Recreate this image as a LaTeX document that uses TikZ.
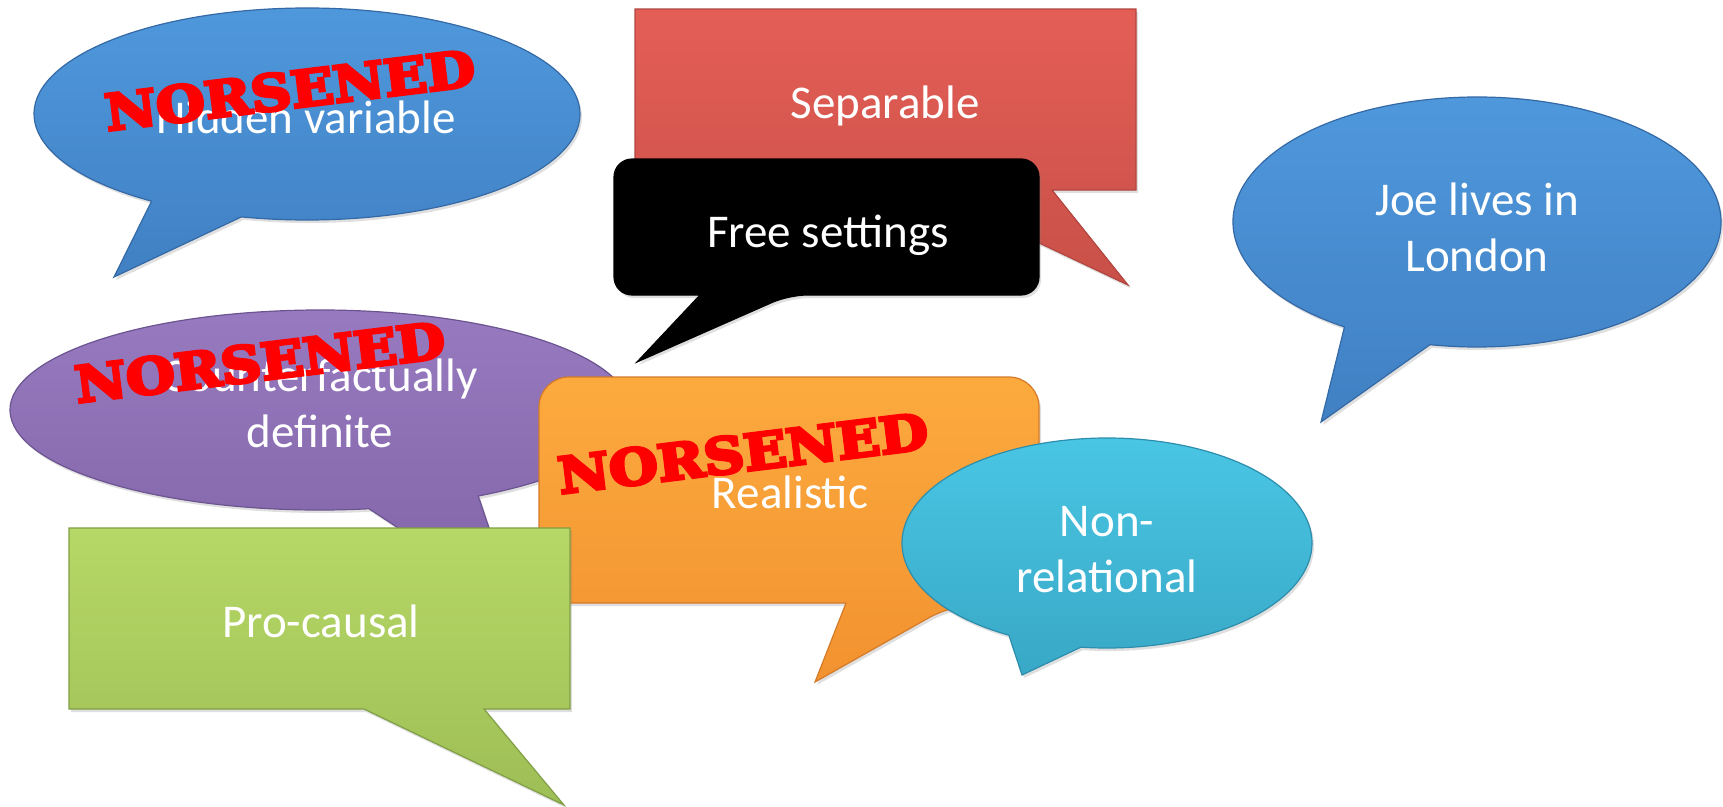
\documentclass[tikz,border=0pt]{standalone}
\usepackage{fontspec}
\setmainfont{Carlito}
\newfontfamily\stampfont[FakeBold=6]{DejaVu Serif}
\usetikzlibrary{shadows,calc}
\definecolor{blueT}{RGB}{80,153,221}
\definecolor{blueB}{RGB}{64,128,195}
\definecolor{blueE}{RGB}{52,105,165}
\definecolor{redT}{RGB}{228,94,86}
\definecolor{redB}{RGB}{200,80,72}
\definecolor{redE}{RGB}{178,70,64}
\definecolor{purT}{RGB}{152,122,192}
\definecolor{purB}{RGB}{128,100,166}
\definecolor{purE}{RGB}{108,84,145}
\definecolor{grnT}{RGB}{182,216,102}
\definecolor{grnB}{RGB}{158,190,86}
\definecolor{grnE}{RGB}{128,158,68}
\definecolor{ornT}{RGB}{252,170,62}
\definecolor{ornB}{RGB}{242,146,48}
\definecolor{ornE}{RGB}{212,122,40}
\definecolor{cyaT}{RGB}{74,200,230}
\definecolor{cyaB}{RGB}{56,168,198}
\definecolor{cyaE}{RGB}{44,142,172}
\begin{document}
\begin{tikzpicture}[x=1pt,y=-1pt,
  lbl/.style={text=white, font=\fontsize{47}{56}\selectfont, inner sep=0pt, align=center},
  stamp/.style={text=red, font=\stampfont\bfseries\fontsize{50}{50}\selectfont, inner sep=0pt, rotate=7, xscale=1.12},
  bubble/.style={line width=1.2pt, drop shadow={shadow xshift=2pt, shadow yshift=-3pt, opacity=0.25}},
]
\useasboundingbox (0,0) rectangle (1723,806);

% Hidden variable (blue ellipse)
\path[bubble, draw=blueE, top color=blueT, bottom color=blueB]
  (114,277) -- ($(307,114)+(124.7:273 and 106)$)
  arc[start angle=124.7, end angle=463.9, x radius=273, y radius=106] -- cycle;
\node[lbl, anchor=base] (hv) at (306,133) {Hidden variable};
\node[stamp] (w1) at (290,90) {NORSENED};

% Separable (red rectangle)
\path[bubble, draw=redE, top color=redT, bottom color=redB]
  (635,9) -- (1136,9) -- (1136,190) -- (1052,190) -- (1128,285) -- (927,190) -- (635,190) -- cycle;
\node[lbl, anchor=base] (sep) at (885,118) {Separable};

% Free settings (black rounded rectangle)
\path[bubble, draw=black, fill=black]
  (614,227) [rounded corners=18pt] -- (614,159) -- (1039,159) -- (1039,295) -- (789,295)
  [sharp corners] -- (637,362) -- (700,295) [rounded corners=18pt] -- (614,295) -- cycle;
\node[lbl, anchor=base] (fs) at (828,247) {Free settings};

% Joe lives in London (blue ellipse)
\path[bubble, draw=blueE, top color=blueT, bottom color=blueB]
  (1321,422) -- ($(1477,222)+(122.9:244 and 125)$)
  arc[start angle=122.9, end angle=461.1, x radius=244, y radius=125] -- cycle;
\node[lbl] (joe) at (1477,227) {Joe lives in\\London};

% Counterfactually definite (purple ellipse)
\path[bubble, draw=purE, top color=purT, bottom color=purB]
  (515,605) -- ($(320,410)+(80.9:310 and 100)$)
  arc[start angle=80.9, end angle=419.3, x radius=310, y radius=100] -- cycle;
\node[lbl] (cd) at (320,403) {Counterfactually\\definite};
\node[stamp] (w2) at (260,362) {NORSENED};

% Realistic (orange rounded rectangle)
\path[bubble, draw=ornE, top color=ornT, bottom color=ornB]
  (539,490) [rounded corners=30pt] -- (539,377) -- (1039,377) -- (1039,603) -- (955,603)
  [sharp corners] -- (815,682) -- (846,603) [rounded corners=30pt] -- (539,603) -- cycle;
\node[lbl, anchor=base] (re) at (790,508) {Realistic};
\node[stamp] (w3) at (743,453) {NORSENED};

% Pro-causal (green rectangle)
\path[bubble, draw=grnE, top color=grnT, bottom color=grnB]
  (69,528) -- (570,528) -- (570,709) -- (484,709) -- (564,805) -- (364,709) -- (69,709) -- cycle;
\node[lbl, anchor=base] (pc) at (321,637) {Pro-causal};

% Non-relational (cyan ellipse)
\path[bubble, draw=cyaE, top color=cyaT, bottom color=cyaB]
  (1022,675) -- ($(1107,543)+(118.6:205 and 105)$)
  arc[start angle=118.6, end angle=457.3, x radius=205, y radius=105] -- cycle;
\node[lbl] (nr) at (1107,550) {Non-\\relational};
\end{tikzpicture}
\end{document}
